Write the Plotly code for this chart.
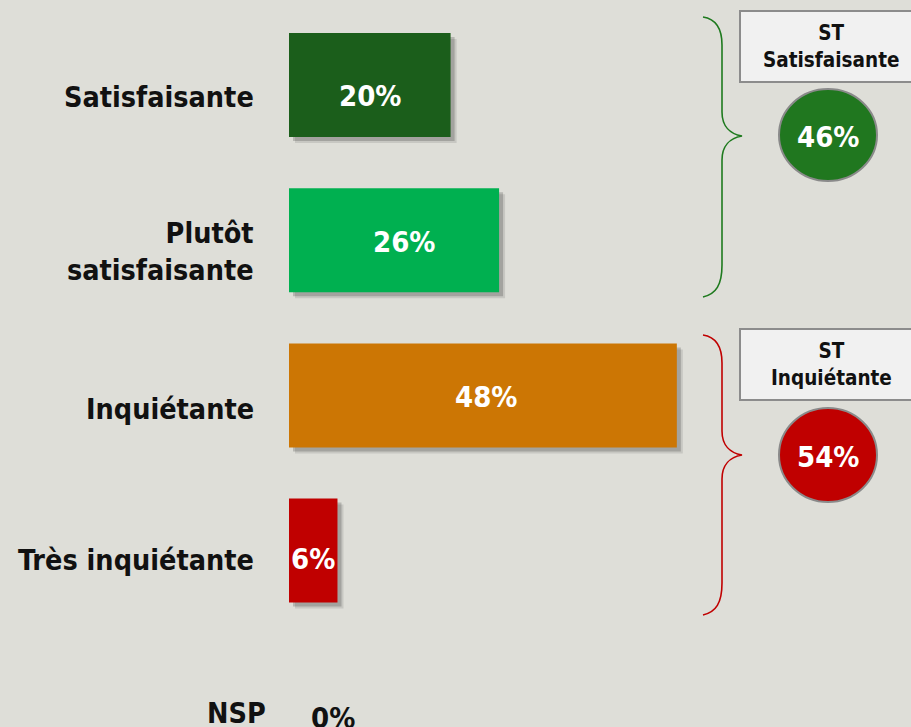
import plotly.graph_objects as go

# ---------------- data ----------------
categories = ["Satisfaisante", "Plutôt<br>satisfaisante", "Inquiétante", "Très inquiétante", "NSP"]
values = [20, 26, 48, 6, 0]
value_labels = ["20%", "26%", "48%", "6%", "0%"]
bar_colors = ["#1B5E1B", "#00B050", "#CC7604", "#C00000", "#808080"]

group_titles = ["ST<br>Satisfaisante", "ST<br>Inquiétante"]
group_values = [46, 54]
group_labels = ["46%", "54%"]
group_colors = ["#20771F", "#C00000"]
brace_colors = ["#1E7A1E", "#C00000"]

# ---------------- geometry / style ----------------
W, H = 911, 727
X0, SX = 289, 8.08      # pixel of 0 %, pixels per %
Y0, SY = 85, 155.2      # pixel centre of first bar, pixels per category
BAR_W = 0.67
FONT = "DejaVu Sans Condensed, DejaVu Sans, sans-serif"
BG = "#DEDED8"

def px(x):
    return x / W

def py(y):
    return 1 - y / H

pos = list(range(len(categories)))

fig = go.Figure()

# soft shadows (two layers) drawn beneath the bars
for d, a in [(6, 0.10), (4, 0.18)]:
    fig.add_trace(go.Bar(
        orientation="h", y=pos, x=values, base=d / SX,
        width=BAR_W, offset=-BAR_W / 2 + d / SY,
        marker=dict(color=f"rgba(0,0,0,{a})", line=dict(width=0)),
        hoverinfo="skip", showlegend=False,
    ))

fig.add_trace(go.Bar(
    orientation="h", y=pos, x=values, width=BAR_W,
    marker=dict(color=bar_colors, line=dict(width=0)),
    hoverinfo="skip", showlegend=False,
))

annotations = []
label_dy = [-11, -2, -2, -8, -12]
label_dx = [0, 10, 3, 0, 0]
cat_dy = [-12, -12, -14, -10, -8]
cat_dx = [0, 0, 0, 0, 12]
for i, (cat, v, lab) in enumerate(zip(categories, values, value_labels)):
    # category label
    annotations.append(dict(
        x=px(256), xref="paper", y=i, yref="y", xanchor="right", yanchor="middle",
        text=f"<b>{cat}</b>", showarrow=False, align="right",
        font=dict(family=FONT, size=28.5, color="#111111"),
        yshift=cat_dy[i], xshift=cat_dx[i],
    ))
    if v > 0:
        annotations.append(dict(
            x=v / 2, y=i, xref="x", yref="y", text=f"<b>{lab}</b>", showarrow=False,
            xanchor="center", yanchor="middle", yshift=label_dy[i], xshift=label_dx[i],
            font=dict(family=FONT, size=29, color="white"),
        ))
    else:
        annotations.append(dict(
            x=v, y=i, xref="x", yref="y", text=f"<b>{lab}</b>", showarrow=False,
            xanchor="left", yanchor="middle", xshift=20, yshift=label_dy[i],
            font=dict(family=FONT, size=29, color="#111111"),
        ))

shapes = []

def brace(top, tip, bottom):
    pts = (f"M {px(703)},{py(top)} "
           f"C {px(716)},{py(top+2)} {px(722)},{py(top+11)} {px(722)},{py(top+28)} "
           f"L {px(722)},{py(tip-24)} "
           f"C {px(722)},{py(tip-10)} {px(730)},{py(tip-2)} {px(742)},{py(tip)} "
           f"C {px(730)},{py(tip+2)} {px(722)},{py(tip+10)} {px(722)},{py(tip+24)} "
           f"L {px(722)},{py(bottom-32)} "
           f"C {px(722)},{py(bottom-12)} {px(716)},{py(bottom-3)} {px(703)},{py(bottom)}")
    return pts

brace_px = [(17, 136, 297), (335, 455, 615)]
box_px = [(11, 82), (329, 400)]
circ_px = [(89, 181), (408, 502)]

for g in range(2):
    t, tip, b = brace_px[g]
    shapes.append(dict(type="path", xref="paper", yref="paper", path=brace(t, tip, b),
                       line=dict(color=brace_colors[g], width=1.6)))
    y0, y1 = box_px[g]
    shapes.append(dict(type="rect", xref="paper", yref="paper",
                       x0=px(740), x1=px(913), y0=py(y1), y1=py(y0),
                       fillcolor="#F1F1F1", line=dict(color="#8C8C8C", width=2)))
    annotations.append(dict(
        x=px(831), y=py((y0 + y1) / 2), xref="paper", yref="paper",
        text=f"<b>{group_titles[g]}</b>", showarrow=False, xanchor="center", yanchor="middle",
        font=dict(family=FONT, size=20.5, color="#111111"),
    ))
    c0, c1 = circ_px[g]
    shapes.append(dict(type="circle", xref="paper", yref="paper",
                       x0=px(779), x1=px(877), y0=py(c1), y1=py(c0),
                       fillcolor=group_colors[g], line=dict(color="#8A8A8A", width=2)))
    annotations.append(dict(
        x=px(828), y=py((c0 + c1) / 2 + 2), xref="paper", yref="paper",
        text=f"<b>{group_labels[g]}</b>", showarrow=False, xanchor="center", yanchor="middle",
        font=dict(family=FONT, size=29, color="white"),
    ))

fig.update_layout(
    width=W, height=H,
    margin=dict(l=0, r=0, t=0, b=0, pad=0),
    paper_bgcolor=BG, plot_bgcolor=BG,
    barmode="overlay", showlegend=False,
    xaxis=dict(visible=False, range=[-X0 / SX, (W - X0) / SX], fixedrange=True),
    yaxis=dict(visible=False, range=[(H - Y0) / SY, -Y0 / SY], fixedrange=True),
    annotations=annotations, shapes=shapes,
)

fig.write_html(
    "out.html",
    config={"displayModeBar": False},
    post_script="document.body.style.margin='0';document.body.style.overflow='hidden';",
)
